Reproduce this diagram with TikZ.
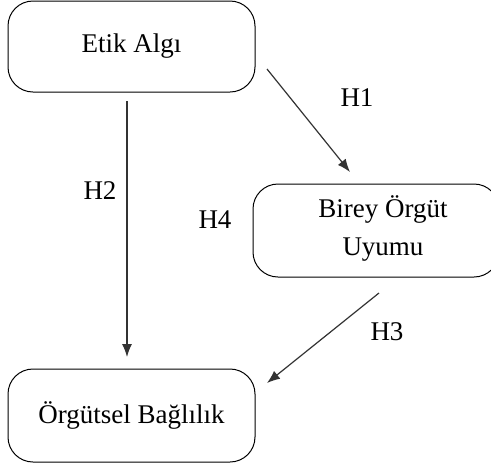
\documentclass[tikz,border=0pt]{standalone}
\usepackage{fontspec}
\setmainfont{Liberation Serif}
\usetikzlibrary{arrows.meta}
\begin{document}
\begin{tikzpicture}[x=1pt,y=-1pt,
  box/.style={draw=black, line width=1pt, rounded corners=25pt, inner sep=0pt},
  txt/.style={inner sep=0pt, font=\fontsize{27}{38}\selectfont},
  conn/.style={draw=black!80, line width=1.2pt, -{Latex[length=13pt,width=10pt]}}
]
\clip (0,0) rectangle (491,467);
\fill[white] (0,0) rectangle (491,467);
\node[box, minimum width=247pt, minimum height=91pt, txt] (etik) at (131.5,46.5) {Etik Algı};
\node[box, minimum width=246pt, minimum height=93pt] (birey) at (376,230.5) {};
\node[txt, align=center] (bireyt) at (383,228) {Birey Örgüt\\Uyumu};
\node[box, minimum width=247pt, minimum height=93pt, txt] (org) at (131.5,415.5) {Örgütsel Bağlılık};
\coordinate (h1s) at (267,69);
\coordinate (h1e) at (350,172);
\coordinate (h2s) at (127,101);
\coordinate (h2e) at (127,357);
\coordinate (h3s) at (379,293);
\coordinate (h3e) at (267,383);
\draw[conn] (h1s) -- (h1e);
\draw[conn] (h2s) -- (h2e);
\draw[conn] (h3s) -- (h3e);
\node[txt] (l1) at (357,98) {H1};
\node[txt] (l2) at (100,191) {H2};
\node[txt] (l4) at (215,220) {H4};
\node[txt] (l3) at (387,332) {H3};
\end{tikzpicture}
\end{document}
